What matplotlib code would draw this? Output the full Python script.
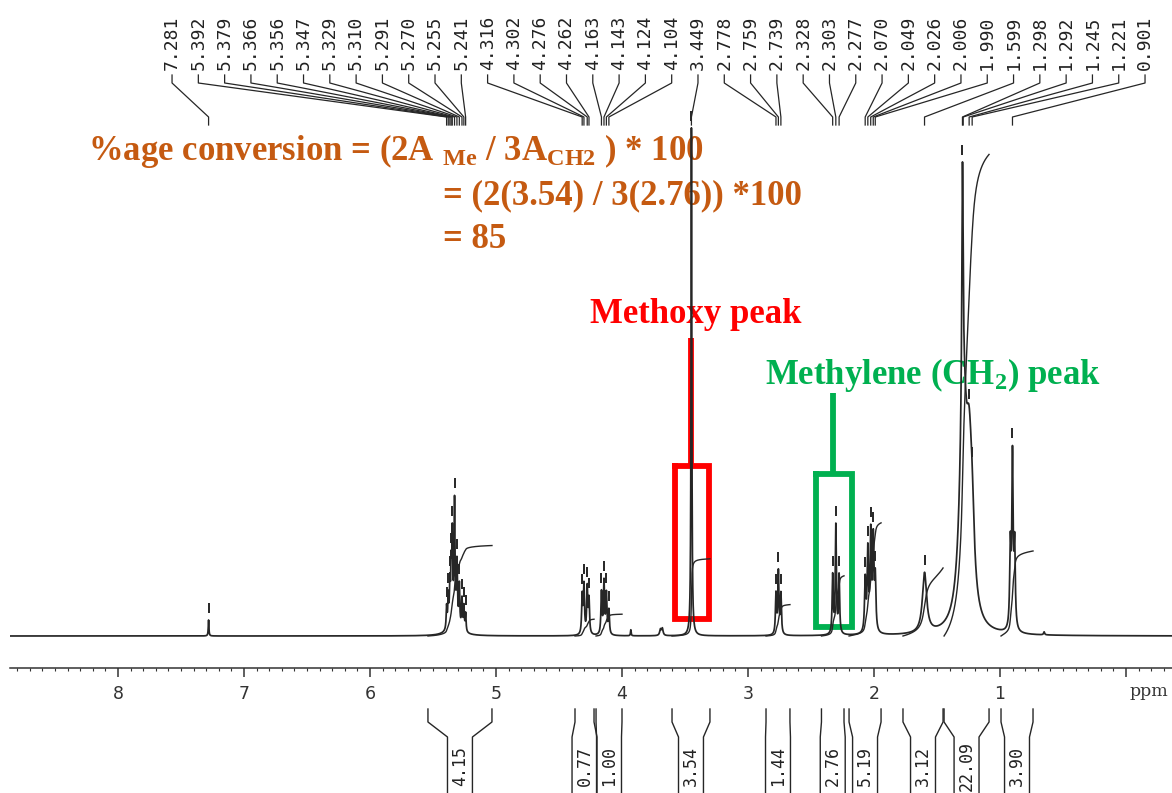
import numpy as np
import matplotlib
matplotlib.use("Agg")
import matplotlib.pyplot as plt
import matplotlib.transforms as mtransforms
from matplotlib.ticker import MultipleLocator, FixedLocator, FixedFormatter

plt.rcParams["mathtext.fontset"] = "custom"
plt.rcParams["mathtext.rm"] = "Liberation Serif:bold"
plt.rcParams["mathtext.it"] = "Liberation Serif:italic:bold"
plt.rcParams["mathtext.bf"] = "Liberation Serif:bold"

# ---------------------------------------------------------------- data
# picked peaks (ppm) written above the spectrum
peak_labels = ["7.281", "5.392", "5.379", "5.366", "5.356", "5.347", "5.329",
               "5.310", "5.291", "5.270", "5.255", "5.241", "4.316", "4.302",
               "4.276", "4.262", "4.163", "4.143", "4.124", "4.104", "3.449",
               "2.778", "2.759", "2.739", "2.328", "2.303", "2.277", "2.070",
               "2.049", "2.026", "2.006", "1.990", "1.599", "1.298", "1.292",
               "1.245", "1.221", "0.901"]

# spectral lines: centre (ppm), height (a.u.), half width (ppm)
line_ppm = [7.281,
            5.392, 5.379, 5.366, 5.356, 5.347, 5.329, 5.310, 5.291, 5.270, 5.255, 5.241, 5.330,
            4.316, 4.302, 4.276, 4.262, 4.163, 4.143, 4.124, 4.104,
            3.930, 3.695, 3.680,
            3.449,
            2.778, 2.759, 2.739,
            2.328, 2.303, 2.277,
            2.070, 2.049, 2.026, 2.006, 1.990,
            1.599,
            1.298, 1.292, 1.245, 1.221,
            0.918, 0.901, 0.884,
            0.650]
line_height = [16,
               22, 30, 38, 50, 80, 112, 56, 40, 30, 24, 18, 20,
               38, 48, 46, 34, 42, 52, 40, 24,
               6, 6, 7,
               508,
               40, 62, 40,
               58, 108, 58,
               52, 80, 96, 90, 52,
               60,
               233, 215, 130, 55,
               80, 170, 80,
               3]
line_hwhm = [0.003,
             0.004, 0.004, 0.004, 0.004, 0.004, 0.004, 0.004, 0.004, 0.004, 0.004, 0.004, 0.035,
             0.005, 0.005, 0.005, 0.005, 0.005, 0.005, 0.005, 0.005,
             0.003, 0.007, 0.007,
             0.0035,
             0.005, 0.005, 0.005,
             0.005, 0.005, 0.005,
             0.006, 0.006, 0.006, 0.006, 0.006,
             0.020,
             0.006, 0.034, 0.028, 0.020,
             0.006, 0.006, 0.006,
             0.005]

# integration regions (ppm) and integral values
integral_start = [5.540, 4.373, 4.206, 3.603, 2.857, 2.417, 2.198, 1.770, 1.444, 0.992]
integral_end = [5.032, 4.222, 4.000, 3.302, 2.667, 2.238, 1.944, 1.452, 1.087, 0.738]
integral_value = [4.15, 0.77, 1.00, 3.54, 1.44, 2.76, 5.19, 3.12, 22.09, 3.90]

axis_ticks = [0, 1, 2, 3, 4, 5, 6, 7, 8]
axis_ticklabels = ["", "1", "2", "3", "4", "5", "6", "7", "8"]

# ---------------------------------------------------------------- figure
W, H = 1172, 793
fig = plt.figure(figsize=(W / 100, H / 100), dpi=100)
fig.patch.set_facecolor("white")
ax = fig.add_axes([10 / W, 125 / H, 1162 / W, 668 / H])
ax.set_xlim(8.857, -0.365)
ax.set_ylim(-32, 636)
ax.patch.set_visible(False)

# pixel-style coordinates (origin top-left) and ppm/pixel blend
px = mtransforms.Affine2D().scale(1 / W, -1 / H).translate(0, 1) + fig.transFigure
ppm_px = mtransforms.blended_transform_factory(ax.transData, px)

INK = "#262626"

# spectrum as a sum of Lorentzian lines
ppm = np.linspace(8.9, -0.4, 60000)
spec = np.zeros_like(ppm)
for c, h, w in zip(line_ppm, line_height, line_hwhm):
    spec += h / (1.0 + ((ppm - c) / w) ** 2)
ax.plot(ppm, spec, color=INK, lw=1.25, zorder=4)

# integral curves
k_int = 21.8
for a, b, v in zip(integral_start, integral_end, integral_value):
    m = (ppm <= a) & (ppm >= b)
    cum = np.cumsum(spec[m])
    ax.plot(ppm[m], cum / cum[-1] * v * k_int, color=INK, lw=1.0, zorder=4)

# peak-pick marks
peak_ppm = [float(s) for s in peak_labels]
peak_int = np.interp(peak_ppm, ppm[::-1], spec[::-1])
ax.vlines(peak_ppm, peak_int + 7, peak_int + 17, color=INK, lw=1.4, zorder=4)

# peak labels with leader lines
label_pos = np.linspace(7.571, -0.151, len(peak_labels))
for lp, pk, txt in zip(label_pos, peak_ppm, peak_labels):
    ax.plot([lp, lp, pk, pk], [75, 83, 117, 125], transform=ppm_px,
            color=INK, lw=0.9, clip_on=False, zorder=4)
    ax.text(lp, 70, txt, rotation=90, ha="center", va="bottom",
            family="DejaVu Sans Mono", fontsize=13, color="#222222",
            transform=ppm_px, clip_on=False)

# integral brackets under the axis
hw = 0.099
for a, b, v in zip(integral_start, integral_end, integral_value):
    c = (a + b) / 2
    ax.plot([a, a, c + hw, c + hw], [709, 722, 737, 800], transform=ppm_px,
            color=INK, lw=1.0, clip_on=False)
    ax.plot([b, b, c - hw, c - hw], [709, 722, 737, 800], transform=ppm_px,
            color=INK, lw=1.0, clip_on=False)
    ax.text(c, 766, f"{v:.2f}", rotation=90, ha="center", va="center",
            family="DejaVu Sans Mono", fontsize=12, color="#222222",
            transform=ppm_px, clip_on=False)

# ppm axis
for s in ["top", "left", "right"]:
    ax.spines[s].set_visible(False)
ax.spines["bottom"].set_linewidth(1.1)
ax.spines["bottom"].set_color("#333333")
ax.yaxis.set_visible(False)
ax.xaxis.set_major_locator(FixedLocator(axis_ticks))
ax.xaxis.set_major_formatter(FixedFormatter(axis_ticklabels))
ax.xaxis.set_minor_locator(MultipleLocator(0.1))
ax.tick_params(axis="x", which="major", direction="out", length=6.5, width=1.1,
               labelsize=12.5, pad=6, colors="#333333")
ax.tick_params(axis="x", which="minor", direction="out", length=2.5, width=0.8,
               colors="#333333")
ax.text(1129, 692, "ppm", transform=px, ha="left", va="center",
        family="DejaVu Serif", fontsize=12.5, color="#333333", clip_on=False)

# conversion calculation
ORANGE = "#C55A11"
tkw = dict(transform=px, color=ORANGE, fontsize=25, family="Liberation Serif",
           weight="bold", va="baseline", ha="left", zorder=1, clip_on=False)
ax.text(88, 160, r"%age conversion = (2A $_{\mathrm{Me}}$ / 3A$_{\mathrm{CH2}}$ ) * 100", **tkw)
ax.text(443, 204, "= (2(3.54) / 3(2.76)) *100", **tkw)
ax.text(443, 248, "= 85", **tkw)

# highlighted peaks
RED = "#FF0000"
GREEN = "#00B050"
ax.text(590, 323, "Methoxy peak", transform=px, color=RED, fontsize=25,
        family="Liberation Serif", weight="bold", va="baseline", ha="left",
        zorder=1, clip_on=False)
ax.text(765, 384, r"Methylene (CH$_{2}$) peak", transform=px, color=GREEN,
        fontsize=25, family="Liberation Serif", weight="bold", va="baseline",
        ha="left", zorder=1, clip_on=False)

ax.plot([3.452, 3.452], [338, 466], transform=ppm_px, color=RED, lw=4.2,
        solid_capstyle="butt", zorder=3, clip_on=False)
ax.plot([3.579, 3.310, 3.310, 3.579, 3.579], [466, 466, 619, 619, 466],
        transform=ppm_px, color=RED, lw=4.2, solid_joinstyle="miter",
        zorder=3, clip_on=False)
ax.plot([2.325, 2.325], [393, 474], transform=ppm_px, color=GREEN, lw=4.2,
        solid_capstyle="butt", zorder=3, clip_on=False)
ax.plot([2.460, 2.171, 2.171, 2.460, 2.460], [474, 474, 627, 627, 474],
        transform=ppm_px, color=GREEN, lw=4.2, solid_joinstyle="miter",
        zorder=3, clip_on=False)

fig.savefig("out.png", dpi=100, facecolor="white")
